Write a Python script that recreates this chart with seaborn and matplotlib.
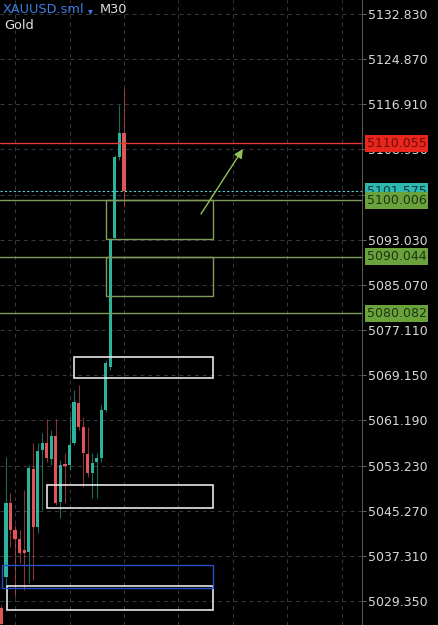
import numpy as np
import matplotlib
matplotlib.use("Agg")
import matplotlib.pyplot as plt
import matplotlib.transforms as mtransforms
from matplotlib.patches import Rectangle
import seaborn as sns

# candle data (M30)
opens = [5028.12, 5033.64, 5046.69, 5041.87, 5040.24, 5038.35, 5038.00, 5052.63,
         5042.40, 5055.98, 5057.26, 5054.39, 5058.44, 5046.86, 5053.51, 5053.33,
         5057.21, 5064.31, 5060.08, 5055.27, 5051.87, 5053.91, 5054.57, 5063.03,
         5070.61, 5093.34, 5107.62, 5111.85]
highs = [5028.65, 5054.74, 5048.40, 5042.76, 5041.87, 5048.93, 5053.33, 5057.21,
         5057.21, 5058.97, 5061.44, 5059.50, 5061.44, 5054.21, 5055.45, 5061.97,
         5066.55, 5067.43, 5061.85, 5060.08, 5055.45, 5055.45, 5063.91, 5071.84,
         5093.34, 5107.97, 5116.79, 5119.79]
lows = [5025.00, 5031.83, 5038.88, 5030.06, 5036.06, 5031.30, 5032.53, 5033.06,
        5041.35, 5045.40, 5053.86, 5053.33, 5046.28, 5043.99, 5046.63, 5052.45,
        5056.86, 5059.50, 5049.51, 5051.22, 5047.52, 5047.52, 5053.86, 5062.68,
        5070.08, 5092.99, 5107.09, 5098.81]
closes = [5025.30, 5046.69, 5041.87, 5040.24, 5037.87, 5037.82, 5052.80, 5042.40,
          5055.85, 5057.26, 5054.57, 5058.44, 5046.63, 5053.33, 5053.16, 5056.86,
          5064.49, 5060.08, 5055.50, 5051.92, 5053.74, 5054.57, 5063.03, 5071.31,
          5092.99, 5107.62, 5111.85, 5101.575]

# price axis ticks
tick_prices = [5029.350, 5037.310, 5045.270, 5053.230, 5061.190, 5069.150, 5077.110,
               5085.070, 5093.030, 5100.990, 5108.950, 5116.910, 5124.870, 5132.830]

# horizontal levels
red_level = 5110.055
bid_level = 5101.575
green_levels = [5100.006, 5090.044, 5080.082]

# zones: (x start, x end, price low, price high)
green_zones = [(23.04, 46.67, 5093.17, 5100.006), (23.04, 46.67, 5083.12, 5090.044)]
white_zones = [(15.99, 46.67, 5068.67, 5072.37), (10.11, 46.67, 5045.75, 5049.80),
               (1.17, 46.67, 5027.77, 5031.99)]
blue_zones = [(0.07, 46.67, 5031.65, 5035.70)]

# arrow (start, end)
arrow_start = (43.96, 5097.58)
arrow_end = (53.2, 5109.03)

sns.set_theme(style="dark", rc={"axes.facecolor": "black", "figure.facecolor": "black"})
plt.rcParams['font.family'] = ['DejaVu Sans']

UP = "#2db39c"
DOWN = "#e2545a"

fig = plt.figure(figsize=(4.39, 6.25), dpi=100)
ax = fig.add_axes([0, 0, 362 / 439, 1])
ax.set_facecolor("black")

ax.set_xlim(-0.31, 79.43)
ax.set_ylim(5025.13, 5135.30)

# grid
for t in tick_prices:
    ax.axhline(t, color="#3a3a3a", lw=0.7, ls=(0, (4, 4)), zorder=0)
for gx in [3, 15, 27, 39, 51, 63, 75]:
    ax.axvline(gx, color="#3a3a3a", lw=0.7, ls=(0, (4, 4)), zorder=0)

# candles
idx = np.arange(len(opens))
o = np.array(opens); c = np.array(closes); h = np.array(highs); l = np.array(lows)
cols = [UP if cc >= oo else DOWN for oo, cc in zip(o, c)]
ax.vlines(idx, l, h, colors=cols, lw=0.8, alpha=0.6, zorder=2)
body_lo = np.minimum(o, c)
body_h = np.maximum(np.abs(c - o), 0.25)
ax.bar(idx, body_h, bottom=body_lo, width=0.7, color=cols, lw=0, zorder=3)

# levels
ax.axhline(red_level, color="#e53935", lw=1.0, zorder=4)
ax.axhline(bid_level, color="#5fd3cf", lw=0.8, ls=(0, (2, 2)), zorder=4)
for g in green_levels:
    ax.axhline(g, color="#7f9a5c", lw=1.0, zorder=4)

# zones
for zones, col, lw in [(green_zones, "#7f9a5c", 1.0), (white_zones, "#e6e6e6", 1.2),
                       (blue_zones, "#2350c8", 1.0)]:
    for x0, x1, p0, p1 in zones:
        ax.add_patch(Rectangle((x0, p0), x1 - x0, p1 - p0, fill=False,
                               edgecolor=col, lw=lw, zorder=5))

ax.annotate("", xy=arrow_end, xytext=arrow_start,
            arrowprops=dict(arrowstyle="-|>", color="#8fc35a", lw=1.0,
                            mutation_scale=13, shrinkA=0, shrinkB=0), zorder=6)

# right price axis
ax.yaxis.tick_right()
ax.set_yticks(tick_prices)
ax.set_yticklabels([f"{t:.3f}" for t in tick_prices])
ax.tick_params(axis="y", colors="#d8d8d8", labelsize=9, length=3, width=0.6,
               color="#777777", pad=1, direction="out", right=True)
ax.set_xticks([])
for s in ["top", "left", "bottom"]:
    ax.spines[s].set_visible(False)
ax.spines["right"].set_visible(True)
ax.spines["right"].set_color("#555555")
ax.spines["right"].set_linewidth(0.8)

trans = mtransforms.blended_transform_factory(ax.transAxes, ax.transData)
tags = [(bid_level, "#2fb8b2", "#0d3a38"),
        (green_levels[0], "#6aa23c", "#1d3510"),
        (green_levels[1], "#6aa23c", "#1d3510"),
        (green_levels[2], "#6aa23c", "#1d3510"),
        (red_level, "#e8261c", "#6e0b08")]
for p, bg, fg in tags:
    ax.text(1.013, p, f"{p:.3f}", transform=trans, ha="left", va="center",
            fontsize=9, color=fg, clip_on=False, zorder=20,
            bbox=dict(boxstyle="square,pad=0.15", fc=bg, ec="none"))

# header
fig.text(3 / 439, 1 - 3 / 625, "XAUUSD.sml", color="#3d7fe0", fontsize=9.3,
         ha="left", va="top")
fig.text(88 / 439, 1 - 6 / 625, "\u25be", color="#3d7fe0", fontsize=7,
         ha="left", va="top")
fig.text(100 / 439, 1 - 3 / 625, "M30", color="#e0e0e0", fontsize=9.3,
         ha="left", va="top")
fig.text(4 / 439, 1 - 19 / 625, "Gold", color="#e0e0e0", fontsize=9.3,
         ha="left", va="top")

fig.savefig("out.png", dpi=100, facecolor="black")
